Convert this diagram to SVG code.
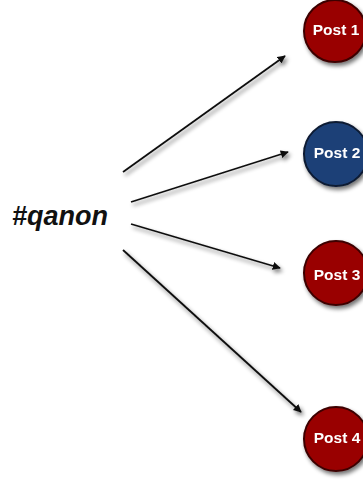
<svg xmlns="http://www.w3.org/2000/svg" width="363" height="482" viewBox="0 0 363 482">
<style>
.node circle{stroke-width:2}
.red{fill:#990000;stroke:#3d0000}
.blue{fill:#1f4177;stroke:#0b1a33}
.lbl{font-family:"Liberation Sans",Arial,sans-serif;font-weight:bold;font-size:15.5px;fill:#fff;text-anchor:middle}
.edge{stroke:#111;stroke-width:1.8;fill:none;marker-end:url(#ah)}
</style>
<defs>
<marker id="ah" viewBox="0 0 10 10" refX="9" refY="5" markerWidth="4.5" markerHeight="4.5" orient="auto" markerUnits="strokeWidth">
<path d="M0,0 L10,5 L0,10 z" fill="#111"/>
</marker>
<filter id="sh" x="-30%" y="-30%" width="160%" height="160%">
<feGaussianBlur in="SourceAlpha" stdDeviation="2"/>
<feOffset dx="2" dy="3" result="b"/>
<feComponentTransfer><feFuncA type="linear" slope="0.55"/></feComponentTransfer>
<feMerge><feMergeNode/><feMergeNode in="SourceGraphic"/></feMerge>
</filter>
</defs>
<rect width="363" height="482" fill="#fff"/>
<g id="hashtag">
<text x="12" y="225" font-family="'Liberation Sans',Arial,sans-serif" font-weight="bold" font-style="italic" font-size="27" fill="#111">#qanon</text>
</g>
<g id="connectors" filter="url(#sh)">
<line class="edge" x1="123" y1="172" x2="285" y2="56"/>
<line class="edge" x1="131" y1="202" x2="288" y2="152"/>
<line class="edge" x1="131" y1="224" x2="280" y2="268"/>
<line class="edge" x1="123" y1="250" x2="301" y2="412"/>
</g>
<g id="post1" class="node" filter="url(#sh)">
<circle class="red" cx="335" cy="31" r="31"/>
<text class="lbl" x="336" y="35">Post 1</text>
</g>
<g id="post2" class="node" filter="url(#sh)">
<circle class="blue" cx="336" cy="154" r="32"/>
<text class="lbl" x="337" y="158">Post 2</text>
</g>
<g id="post3" class="node" filter="url(#sh)">
<circle class="red" cx="336" cy="273" r="32"/>
<text class="lbl" x="337" y="280">Post 3</text>
</g>
<g id="post4" class="node" filter="url(#sh)">
<circle class="red" cx="336" cy="439" r="32"/>
<text class="lbl" x="337" y="443">Post 4</text>
</g>
</svg>
